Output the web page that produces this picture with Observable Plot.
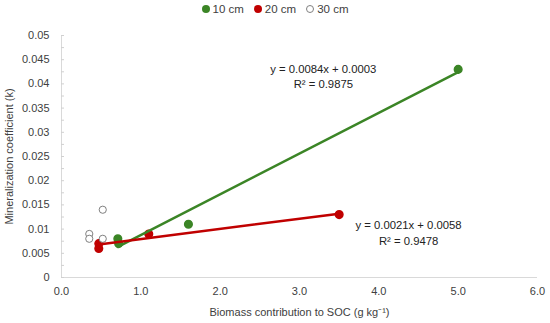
<!DOCTYPE html>
<html><head><meta charset="utf-8">
<script src="https://cdn.jsdelivr.net/npm/d3@7"></script>
<script src="https://cdn.jsdelivr.net/npm/@observablehq/plot@0.6"></script>
<style>
body{margin:0;background:#fff;font-family:"Liberation Sans",Arial,sans-serif;}
#legend{height:17px;display:flex;justify-content:center;align-items:center;font-size:11.5px;color:#404040;}
#legend .item{display:flex;align-items:center;margin:0 5px;}
#legend .sw{width:8px;height:8px;border-radius:50%;margin-right:3px;box-sizing:border-box;}
</style></head><body>
<div id="legend"></div><div id="chart"></div>
<script>
const seriesNames = ["10 cm", "20 cm", "30 cm"];
const seriesColors = ["#3b8526", "#c00000", "#808080"];
const x10 = [0.71, 0.72, 1.6, 5.0];
const k10 = [0.008, 0.007, 0.011, 0.043];
const x20 = [0.47, 0.47, 1.1, 3.5];
const k20 = [0.006, 0.007, 0.009, 0.013];
const x30 = [0.35, 0.35, 0.52, 0.52];
const k30 = [0.009, 0.008, 0.014, 0.008];
const xTicks = [0, 1, 2, 3, 4, 5, 6];
const yTicks = [0, 0.005, 0.01, 0.015, 0.02, 0.025, 0.03, 0.035, 0.04, 0.045, 0.05];
const yMinor = [0.0025, 0.0075, 0.0125, 0.0175, 0.0225, 0.0275, 0.0325, 0.0375, 0.0425, 0.0475];
const eqLabels = ["y = 0.0084x + 0.0003\nR² = 0.9875", "y = 0.0021x + 0.0058\nR² = 0.9478"];
const eqX = [3.3, 4.375];
const eqY = [0.0417, 0.00936];

const toRows = (xs, ks, s) => xs.map((x, i) => ({x, k: ks[i], s}));
const d10 = toRows(x10, k10, seriesNames[0]);
const d20 = toRows(x20, k20, seriesNames[1]);
const d30 = toRows(x30, k30, seriesNames[2]);
const eqs = eqLabels.map((t, i) => ({t, x: eqX[i], y: eqY[i]}));

// legend
const leg = document.getElementById("legend");
seriesNames.forEach((n, i) => {
  const it = document.createElement("div"); it.className = "item";
  const sw = document.createElement("div"); sw.className = "sw";
  if (i < 2) sw.style.background = seriesColors[i];
  else sw.style.border = "1px solid " + seriesColors[i];
  const tx = document.createElement("span"); tx.textContent = n;
  it.appendChild(sw); it.appendChild(tx); leg.appendChild(it);
});

const chart = Plot.plot({
  width: 550, height: 306,
  marginTop: 18, marginBottom: 46, marginLeft: 61, marginRight: 13,
  style: {fontFamily: "Liberation Sans, Arial, sans-serif", fontSize: "11px", color: "#404040", background: "#fff"},
  x: {domain: [0, 6]},
  y: {domain: [0, 0.05]},
  marks: [
    Plot.ruleX([0], {stroke: "#d9d9d9", strokeWidth: 1}),
    Plot.ruleY([0], {stroke: "#d9d9d9", strokeWidth: 1}),
    Plot.axisX({ticks: xTicks, tickSize: 0, tickPadding: 10, tickFormat: d3.format(".1f"), fill: "#404040",
      label: "Biomass contribution to SOC (g kg⁻¹)", labelAnchor: "center", labelOffset: 38, labelArrow: "none"}),
    Plot.axisY({ticks: yTicks, tickSize: 0, tickPadding: 12, tickFormat: d => String(+d.toFixed(4)), fill: "#404040",
      label: "Mineralization coefficient (k)", labelAnchor: "center", labelOffset: 56, labelArrow: "none"}),
    Plot.axisY({ticks: yTicks.concat(yMinor), tickSize: 3, dx: 3, text: null, label: null, stroke: "#d0d0d0"}),
    Plot.dot(d10, {x: "x", y: "k", r: 3.8, fill: seriesColors[0], stroke: seriesColors[0]}),
    Plot.dot(d20, {x: "x", y: "k", r: 3.8, fill: seriesColors[1], stroke: seriesColors[1]}),
    Plot.dot(d30, {x: "x", y: "k", r: 3.6, fill: "white", stroke: seriesColors[2], strokeWidth: 1}),
    Plot.linearRegressionY(d10, {x: "x", y: "k", stroke: seriesColors[0], strokeWidth: 2.5, ci: 0}),
    Plot.linearRegressionY(d20, {x: "x", y: "k", stroke: seriesColors[1], strokeWidth: 2.5, ci: 0}),
    Plot.text(eqs, {x: "x", y: "y", text: "t", fill: "#222", fontSize: 11.3, lineHeight: 1.35, textAnchor: "middle"})
  ]
});
document.getElementById("chart").appendChild(chart);
</script>
</body></html>
